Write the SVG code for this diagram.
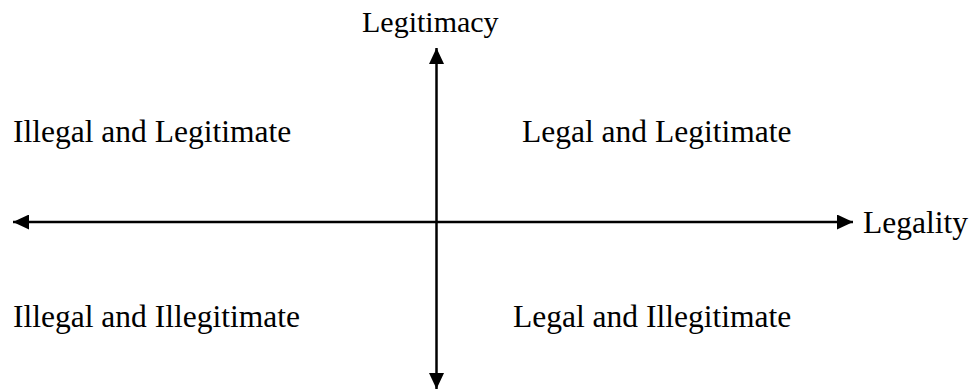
<svg xmlns="http://www.w3.org/2000/svg" width="975" height="391" viewBox="0 0 975 391">
<style>
text{font-family:"Liberation Serif","Times New Roman",serif;font-size:31.5px;fill:#000}
.ax{stroke:#000;stroke-width:2.5;fill:none}
</style>
<defs>
<marker id="ah" viewBox="0 0 16 15" refX="16" refY="7.5" markerWidth="16" markerHeight="15" markerUnits="userSpaceOnUse" orient="auto">
<path d="M0,0 L16,7.5 L0,15 Z" fill="#000"/>
</marker>
</defs>
<rect width="975" height="391" fill="#fff"/>
<g id="connectors">
<line class="ax" x1="436.5" y1="222" x2="436.5" y2="48" marker-end="url(#ah)"/>
<line class="ax" x1="436.5" y1="222" x2="436.5" y2="389" marker-end="url(#ah)"/>
<line class="ax" x1="436.5" y1="222" x2="13" y2="222" marker-end="url(#ah)"/>
<line class="ax" x1="436.5" y1="222" x2="853" y2="222" marker-end="url(#ah)"/>
</g>
<g id="legitimacy"><text x="362" y="32" style="font-size:30px">Legitimacy</text></g>
<g id="legality"><text x="863" y="233">Legality</text></g>
<g id="q-illegal-legit"><text x="13" y="142">Illegal and Legitimate</text></g>
<g id="q-legal-legit"><text x="522" y="142">Legal and Legitimate</text></g>
<g id="q-illegal-illegit"><text x="13" y="327">Illegal and Illegitimate</text></g>
<g id="q-legal-illegit"><text x="513" y="327">Legal and Illegitimate</text></g>
</svg>
